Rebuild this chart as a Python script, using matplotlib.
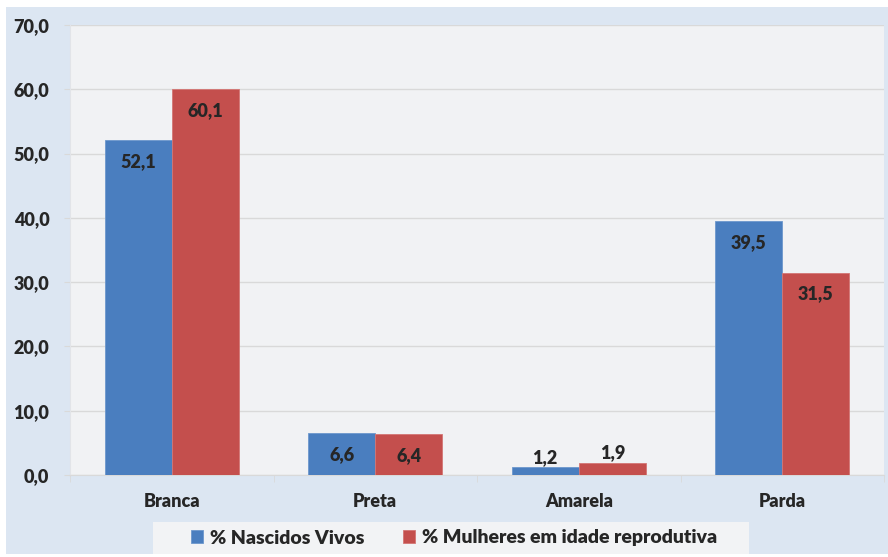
import matplotlib
matplotlib.use("Agg")
import matplotlib.pyplot as plt
from matplotlib.patches import Rectangle
import numpy as np

categories = ["Branca", "Preta", "Amarela", "Parda"]
nascidos = [52.1, 6.6, 1.2, 39.5]
mulheres = [60.1, 6.4, 1.9, 31.5]
series_names = ["% Nascidos Vivos", "% Mulheres em idade reprodutiva"]
yticks = [0, 10, 20, 30, 40, 50, 60, 70]

FW = 'heavy'
plt.rcParams['font.family'] = ['Lato', 'DejaVu Sans']
plt.rcParams['font.weight'] = FW

W, H = 888, 557
fig = plt.figure(figsize=(W / 100, H / 100), dpi=100, facecolor='white')
fig.patches.append(Rectangle((6 / W, 3 / H), 1, (554 - 7) / H, transform=fig.transFigure,
                             facecolor='#DCE6F2', edgecolor='none', zorder=-10))
fig.patches.append(Rectangle((153 / W, (H - 554) / H), (749 - 153) / W, 32 / H,
                             transform=fig.transFigure, facecolor='#F2F3F5',
                             edgecolor='none', zorder=-5))

ax = fig.add_axes([70 / W, (H - 475) / H, 814 / W, 450 / H])
ax.set_facecolor('#F1F2F4')

x = np.arange(len(categories))
bw = 0.33
blue = '#4A7EBF'
red = '#C44F4D'
b1 = ax.bar(x - bw / 2, nascidos, bw, color=blue, edgecolor='#6C97CC', linewidth=0.6,
            label=series_names[0], zorder=3)
b2 = ax.bar(x + bw / 2, mulheres, bw, color=red, edgecolor='#D37674', linewidth=0.6,
            label=series_names[1], zorder=3)

txt = '#262626'
for bars, vals in ((b1, nascidos), (b2, mulheres)):
    for rect, v in zip(bars, vals):
        cx = rect.get_x() + rect.get_width() / 2
        lab = f"{v:.1f}".replace('.', ',')
        if v > 4:
            ax.annotate(lab, (cx, v), xytext=(0, -15.5), textcoords='offset points',
                        ha='center', va='center', fontsize=13, fontweight=FW, color=txt, zorder=5)
        else:
            ax.annotate(lab, (cx, v), xytext=(0, 7), textcoords='offset points',
                        ha='center', va='center', fontsize=13, fontweight=FW, color=txt, zorder=5)

ax.set_xlim(-0.5, len(categories) - 0.5)
ax.set_ylim(0, 70)
ax.set_yticks(yticks)
ax.set_yticklabels([f"{t:.1f}".replace('.', ',') for t in yticks], fontsize=13,
                   fontweight=FW, color=txt)
ax.set_xticks(x)
ax.set_xticklabels(categories, fontsize=13, fontweight=FW, color=txt)
ax.set_xticks(np.arange(-0.5, len(categories)), minor=True)

grid_c = '#D9D9D9'
ax.yaxis.grid(True, color=grid_c, linewidth=1, zorder=1)
ax.set_axisbelow(True)
ax.tick_params(axis='y', length=4.3, color=grid_c, pad=10.5)
ax.tick_params(axis='x', which='major', length=0, pad=13)
ax.tick_params(axis='x', which='minor', length=5, color=grid_c)

for s in ('top', 'right'):
    ax.spines[s].set_visible(False)
ax.spines['left'].set_color('#E2E4E8')
ax.spines['bottom'].set_color(grid_c)

leg = fig.legend(handles=[b1, b2], loc='center', bbox_to_anchor=(454 / W, 1 - 538 / H),
                 ncol=2, frameon=False, fontsize=14, handlelength=0.62, handleheight=0.62,
                 handletextpad=0.35, columnspacing=2.0, borderpad=0.3)
for t in leg.get_texts():
    t.set_color(txt)
    t.set_fontweight(FW)

fig.savefig('out.png', dpi=100, facecolor='white')
